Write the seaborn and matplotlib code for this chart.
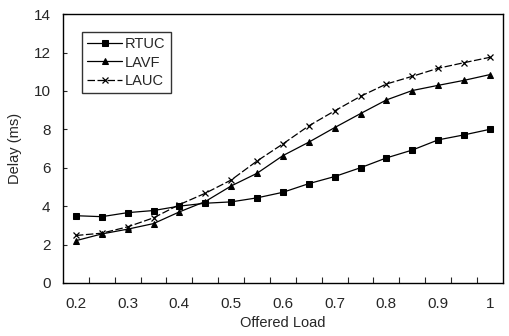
import matplotlib
matplotlib.use("Agg")
import matplotlib.pyplot as plt
import seaborn as sns
import pandas as pd
import numpy as np

load = [0.2, 0.25, 0.3, 0.35, 0.4, 0.45, 0.5, 0.55, 0.6, 0.65, 0.7, 0.75, 0.8, 0.85, 0.9, 0.95, 1.0]
rtuc = [3.5, 3.45, 3.66, 3.77, 4.0, 4.15, 4.22, 4.43, 4.72, 5.17, 5.54, 6.0, 6.51, 6.92, 7.45, 7.71, 8.0]
lavf = [2.2, 2.55, 2.8, 3.09, 3.7, 4.24, 5.05, 5.71, 6.63, 7.33, 8.09, 8.82, 9.53, 10.02, 10.29, 10.55, 10.85]
lauc = [2.47, 2.59, 2.92, 3.39, 4.08, 4.67, 5.36, 6.35, 7.24, 8.18, 8.96, 9.72, 10.36, 10.76, 11.18, 11.47, 11.75]
series = ['RTUC', 'LAVF', 'LAUC']

df = pd.DataFrame({
    'Offered Load': load * 3,
    'Delay (ms)': rtuc + lavf + lauc,
    'Scheme': ['RTUC'] * len(load) + ['LAVF'] * len(load) + ['LAUC'] * len(load),
})

sns.set_style("white")
plt.rcParams['font.family'] = ['Liberation Sans', 'DejaVu Sans']

fig = plt.figure(figsize=(5.1, 3.36), dpi=100)
ax = fig.add_axes([0.1235, 0.158, 0.8625, 0.80])

sns.lineplot(data=df, x='Offered Load', y='Delay (ms)', hue='Scheme', style='Scheme',
             hue_order=series, style_order=series,
             palette={'RTUC': 'black', 'LAVF': 'black', 'LAUC': 'black'},
             markers={'RTUC': 's', 'LAVF': '^', 'LAUC': 'X'},
             dashes={'RTUC': '', 'LAVF': '', 'LAUC': (6, 2)},
             markersize=5, linewidth=0.9, markeredgecolor='black', ax=ax)

# x markers thinner, like a plain 'x'
for line in ax.get_lines():
    if line.get_marker() == 'X':
        line.set_marker('x')
        line.set_markersize(5)
        line.set_markeredgewidth(0.9)

ax.set_xlim(0.175, 1.025)
ax.set_ylim(0, 14)
ax.set_xticks([0.2, 0.3, 0.4, 0.5, 0.6, 0.7, 0.8, 0.9, 1.0])
ax.set_xticklabels(['0.2', '0.3', '0.4', '0.5', '0.6', '0.7', '0.8', '0.9', '1'])
ax.set_xticks(np.arange(0.225, 1.0, 0.05), minor=True)
ax.set_yticks(range(0, 15, 2))
ax.tick_params(axis='x', which='major', length=0, pad=10, labelsize=11)
ax.tick_params(axis='x', which='minor', direction='in', length=4, width=0.8, bottom=True)
ax.tick_params(axis='y', direction='in', length=3, width=0.8, left=True, labelsize=11, pad=9)

for s in ax.spines.values():
    s.set_color('black')
    s.set_linewidth(1.0)

ax.set_xlabel('Offered Load', fontsize=10.5, labelpad=4)
ax.set_ylabel('Delay (ms)', fontsize=10.5, labelpad=8)

leg = ax.legend(loc='upper left', bbox_to_anchor=(0.043, 0.933), borderaxespad=0,
                fontsize=10.5, frameon=True, fancybox=False, edgecolor='black',
                handlelength=2.4, handletextpad=0.2, borderpad=0.35, labelspacing=0.3)
leg.get_frame().set_linewidth(1.0)

fig.savefig('out.png', dpi=100)
